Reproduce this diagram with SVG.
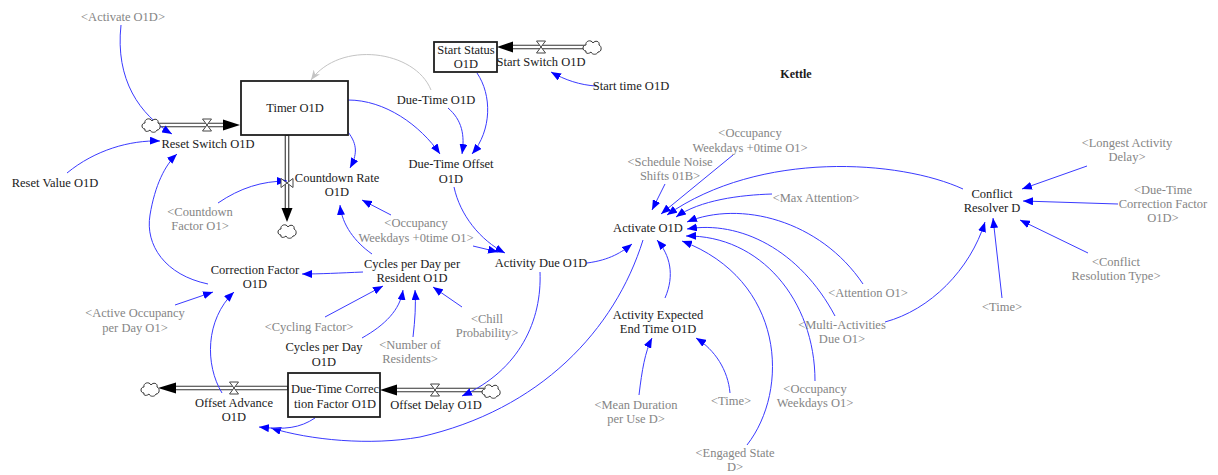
<svg xmlns="http://www.w3.org/2000/svg" xmlns:xlink="http://www.w3.org/1999/xlink" width="1218" height="475" viewBox="0 0 1218 475">
  <style>
    text { font-family: "Liberation Serif", "Times New Roman", serif; font-size: 12.5px; fill: #1a1a1a; text-anchor: middle; }
    text.shadow { fill: #858585; }
    text.title { font-weight: bold; font-size: 12px; }
    .link { fill: none; stroke: #3a3aff; stroke-width: 1; marker-end: url(#arrow); }
    .link.grey { stroke: #c4c4c4; marker-end: url(#arrowGrey); }
    .pipeOuter { fill: none; stroke: #333333; stroke-width: 4.6; }
    .pipeInner { fill: none; stroke: #ffffff; stroke-width: 2.4; }
    .flowHead { fill: #000000; }
    .stock { fill: #ffffff; stroke: #1e1e1e; stroke-width: 1.8; }
    .valve { fill: #ffffff; stroke: #444444; stroke-width: 1; }
    .cloud { fill: #ffffff; stroke: #333333; stroke-width: 1; }
  </style>
  <defs>
    <marker id="arrow" viewBox="0 0 10 8" refX="10" refY="4" markerWidth="10" markerHeight="8" markerUnits="userSpaceOnUse" orient="auto">
      <path d="M0,0 L10,4 L0,8 z" fill="#0000ff"/>
    </marker>
    <marker id="arrowGrey" viewBox="0 0 10 8" refX="10" refY="4" markerWidth="10" markerHeight="8" markerUnits="userSpaceOnUse" orient="auto">
      <path d="M0,0 L10,4 L0,8 L3,4 z" fill="#c4c4c4"/>
    </marker>
    <path id="cloudShape" class="cloud" d="M-6,4 C-10,4 -10,-2 -6,-2 C-7,-6 -1,-8 1,-4 C3,-7 8,-6 7,-2 C10,-1 10,5 6,5 C5,8 0,8 -1,5 C-3,7 -7,7 -6,4 Z"/>
    <path id="valveShape" class="valve" d="M-4.5,-6 L4.5,-6 L-4.5,6 L4.5,6 Z"/>
  </defs>

  <rect x="0" y="0" width="1218" height="475" fill="#ffffff"/>

  <!-- connectors: causal links and material pipes -->
  <g id="connectors">
    <!-- pipes -->
    <path class="pipeOuter" d="M158,125 L224,125"/>
    <path class="pipeInner" d="M158,125 L224,125"/>
    <polygon class="flowHead" points="223,119.5 240,125 223,130.5"/>

    <path class="pipeOuter" d="M287,135 L287,209"/>
    <path class="pipeInner" d="M287,136 L287,209"/>
    <polygon class="flowHead" points="281.5,208 287,222 292.5,208"/>

    <path class="pipeOuter" d="M585,47 L511,47"/>
    <path class="pipeInner" d="M585,47 L511,47"/>
    <polygon class="flowHead" points="513,41.5 497,47 513,52.5"/>

    <path class="pipeOuter" d="M288,388 L174,388"/>
    <path class="pipeInner" d="M287,388 L174,388"/>
    <polygon class="flowHead" points="176,382.5 158,388 176,393.5"/>

    <path class="pipeOuter" d="M484,390 L395,390"/>
    <path class="pipeInner" d="M484,390 L395,390"/>
    <polygon class="flowHead" points="397,384.5 380,390 397,395.5"/>

    <!-- causal links -->
    <path class="link" d="M121,25 C115,80 140,115 172,134"/>
    <path class="link" d="M67,173 C95,150 130,140 160,141"/>
    <path class="link" d="M208,284 C165,275 145,245 150,215 C155,185 165,165 177,154"/>
    <path class="link" d="M218,203 C240,188 262,181 287,181"/>
    <path class="link" d="M348,132 C358,145 357,155 350,168"/>
    <path class="link" d="M348,100 C385,100 420,125 440,154"/>
    <path class="link" d="M448,108 C462,120 465,135 462,154"/>
    <path class="link" d="M477,73 C492,95 492,130 472,154"/>
    <path class="link" d="M596,86 C580,85 565,80 551,72"/>
    <path class="link grey" d="M431,90 C415,50 340,40 311,80"/>
    <path class="link" d="M391,215 L362,200"/>
    <path class="link" d="M372,254 C355,242 342,225 340,205"/>
    <path class="link" d="M363,272 C340,273 320,274 302,274"/>
    <path class="link" d="M175,305 L213,292"/>
    <path class="link" d="M222,393 C205,365 205,320 234,292"/>
    <path class="link" d="M325,317 L383,286"/>
    <path class="link" d="M362,338 C385,325 400,310 403,290"/>
    <path class="link" d="M413,337 C415,320 416,305 415,290"/>
    <path class="link" d="M462,307 L433,287"/>
    <path class="link" d="M454,187 C460,215 480,240 505,253"/>
    <path class="link" d="M473,246 L498,252"/>
    <path class="link" d="M587,263 C610,260 622,252 632,244"/>
    <path class="link" d="M540,272 C542,320 520,370 462,396"/>
    <path class="link" d="M643,240 C615,330 540,410 420,437 C370,446 310,440 271,428"/>
    <path class="link" d="M315,418 C300,428 285,430 259,427"/>
    <path class="link" d="M665,184 L652,210"/>
    <path class="link" d="M733,155 L661,214"/>
    <path class="link" d="M963,189 C900,160 760,150 667,215"/>
    <path class="link" d="M772,194 C740,195 700,200 676,217"/>
    <path class="link" d="M863,284 C820,220 740,200 687,222"/>
    <path class="link" d="M835,316 C800,250 740,220 687,229"/>
    <path class="link" d="M815,381 C815,300 760,235 686,236"/>
    <path class="link" d="M747,445 C790,390 785,280 682,241"/>
    <path class="link" d="M665,298 C675,275 670,255 657,240"/>
    <path class="link" d="M639,395 C642,370 645,352 652,338"/>
    <path class="link" d="M730,393 C728,370 715,350 696,338"/>
    <path class="link" d="M1087,166 L1022,189"/>
    <path class="link" d="M1118,204 L1023,201"/>
    <path class="link" d="M1088,253 L1020,220"/>
    <path class="link" d="M1002,298 L993,218"/>
    <path class="link" d="M885,322 C930,310 970,270 985,222"/>
  </g>

  <!-- stocks -->
  <g id="timer">
    <rect class="stock" x="241" y="81" width="107" height="54"/>
    <text x="295" y="112">Timer O1D</text>
  </g>
  <g id="start-status">
    <rect class="stock" x="434" y="42" width="63" height="30"/>
    <text x="466" y="54">Start Status</text>
    <text x="466" y="68">O1D</text>
  </g>
  <g id="due-time-correction-factor">
    <rect class="stock" x="288" y="373" width="92" height="44" stroke-width="1.4"/>
    <text x="335" y="393">Due-Time Correc</text>
    <text x="335" y="408">tion Factor O1D</text>
  </g>

  <!-- flows with their valves and clouds -->
  <g id="reset-switch">
    <use xlink:href="#cloudShape" x="151" y="125"/>
    <use xlink:href="#valveShape" x="207" y="125"/>
    <text x="208" y="148">Reset Switch O1D</text>
  </g>
  <g id="countdown-rate">
    <use xlink:href="#valveShape" transform="translate(287,183) rotate(90)"/>
    <use xlink:href="#cloudShape" x="287" y="231"/>
    <text x="337" y="182">Countdown Rate</text>
    <text x="337" y="196">O1D</text>
  </g>
  <g id="start-switch">
    <use xlink:href="#cloudShape" x="592" y="47"/>
    <use xlink:href="#valveShape" x="541" y="47"/>
    <text x="541" y="66">Start Switch O1D</text>
  </g>
  <g id="offset-advance">
    <use xlink:href="#cloudShape" x="150" y="389"/>
    <use xlink:href="#valveShape" x="234" y="388"/>
    <text x="234" y="407">Offset Advance</text>
    <text x="234" y="421">O1D</text>
  </g>
  <g id="offset-delay">
    <use xlink:href="#cloudShape" x="491" y="391"/>
    <use xlink:href="#valveShape" x="435" y="390"/>
    <text x="436" y="409">Offset Delay O1D</text>
  </g>

  <!-- auxiliaries -->
  <g id="activate-o1d-ref"><text class="shadow" x="123" y="21">&lt;Activate O1D&gt;</text></g>
  <g id="reset-value"><text x="55" y="187">Reset Value O1D</text></g>
  <g id="countdown-factor-ref">
    <text class="shadow" x="200" y="216">&lt;Countdown</text>
    <text class="shadow" x="200" y="230">Factor O1&gt;</text>
  </g>
  <g id="due-time"><text x="436" y="104">Due-Time O1D</text></g>
  <g id="start-time"><text x="631" y="90">Start time O1D</text></g>
  <g id="due-time-offset">
    <text x="451" y="168">Due-Time Offset</text>
    <text x="451" y="183">O1D</text>
  </g>
  <g id="kettle-title"><text class="title" x="796" y="78">Kettle</text></g>
  <g id="occupancy-0time-ref-a">
    <text class="shadow" x="416" y="227">&lt;Occupancy</text>
    <text class="shadow" x="416" y="242">Weekdays +0time O1&gt;</text>
  </g>
  <g id="cycles-per-day-per-resident">
    <text x="412" y="268">Cycles per Day per</text>
    <text x="412" y="282">Resident O1D</text>
  </g>
  <g id="correction-factor">
    <text x="255" y="274">Correction Factor</text>
    <text x="255" y="288">O1D</text>
  </g>
  <g id="active-occupancy-ref">
    <text class="shadow" x="135" y="317">&lt;Active Occupancy</text>
    <text class="shadow" x="135" y="332">per Day O1&gt;</text>
  </g>
  <g id="cycling-factor-ref"><text class="shadow" x="309" y="331">&lt;Cycling Factor&gt;</text></g>
  <g id="cycles-per-day">
    <text x="324" y="351">Cycles per Day</text>
    <text x="324" y="366">O1D</text>
  </g>
  <g id="number-of-residents-ref">
    <text class="shadow" x="410" y="349">&lt;Number of</text>
    <text class="shadow" x="410" y="363">Residents&gt;</text>
  </g>
  <g id="chill-probability-ref">
    <text class="shadow" x="487" y="323">&lt;Chill</text>
    <text class="shadow" x="487" y="337">Probability&gt;</text>
  </g>
  <g id="activity-due"><text x="541" y="267">Activity Due O1D</text></g>
  <g id="activate"><text x="648" y="232">Activate O1D</text></g>
  <g id="schedule-noise-ref">
    <text class="shadow" x="670" y="166">&lt;Schedule Noise</text>
    <text class="shadow" x="670" y="180">Shifts 01B&gt;</text>
  </g>
  <g id="occupancy-0time-ref-b">
    <text class="shadow" x="750" y="137">&lt;Occupancy</text>
    <text class="shadow" x="750" y="152">Weekdays +0time O1&gt;</text>
  </g>
  <g id="max-attention-ref"><text class="shadow" x="816" y="202">&lt;Max Attention&gt;</text></g>
  <g id="conflict-resolver">
    <text x="992" y="198">Conflict</text>
    <text x="992" y="212">Resolver D</text>
  </g>
  <g id="longest-activity-delay-ref">
    <text class="shadow" x="1127" y="147">&lt;Longest Activity</text>
    <text class="shadow" x="1127" y="161">Delay&gt;</text>
  </g>
  <g id="due-time-correction-factor-ref">
    <text class="shadow" x="1163" y="194">&lt;Due-Time</text>
    <text class="shadow" x="1163" y="208">Correction Factor</text>
    <text class="shadow" x="1163" y="222">O1D&gt;</text>
  </g>
  <g id="conflict-resolution-type-ref">
    <text class="shadow" x="1116" y="266">&lt;Conflict</text>
    <text class="shadow" x="1116" y="280">Resolution Type&gt;</text>
  </g>
  <g id="time-ref-a"><text class="shadow" x="1002" y="311">&lt;Time&gt;</text></g>
  <g id="attention-ref"><text class="shadow" x="868" y="297">&lt;Attention O1&gt;</text></g>
  <g id="multi-activities-ref">
    <text class="shadow" x="842" y="329">&lt;Multi-Activities</text>
    <text class="shadow" x="842" y="343">Due O1&gt;</text>
  </g>
  <g id="activity-expected-end-time">
    <text x="658" y="319">Activity Expected</text>
    <text x="658" y="333">End Time O1D</text>
  </g>
  <g id="mean-duration-ref">
    <text class="shadow" x="636" y="409">&lt;Mean Duration</text>
    <text class="shadow" x="636" y="423">per Use D&gt;</text>
  </g>
  <g id="time-ref-b"><text class="shadow" x="731" y="405">&lt;Time&gt;</text></g>
  <g id="occupancy-weekdays-ref">
    <text class="shadow" x="815" y="393">&lt;Occupancy</text>
    <text class="shadow" x="815" y="407">Weekdays O1&gt;</text>
  </g>
  <g id="engaged-state-ref">
    <text class="shadow" x="735" y="457">&lt;Engaged State</text>
    <text class="shadow" x="735" y="471">D&gt;</text>
  </g>
</svg>
